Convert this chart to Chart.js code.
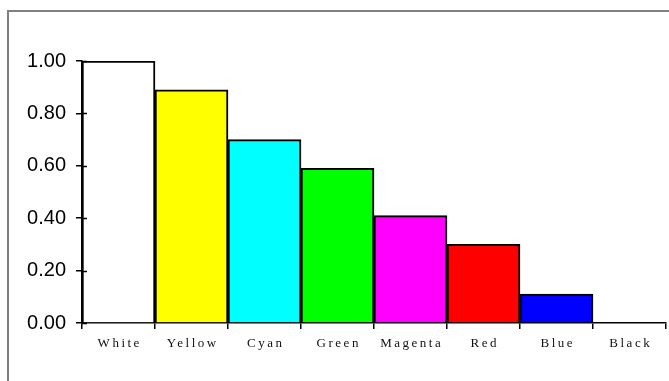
<!DOCTYPE html>
<html>
<head>
<meta charset="utf-8">
<script src="https://cdn.jsdelivr.net/npm/chart.js@4"></script>
<style>
  html, body { margin: 0; padding: 0; background: #fff; }
  #wrap { position: relative; width: 669px; height: 381px; overflow: hidden; }
  #frame { position: absolute; left: 7px; top: 10px; width: 700px; height: 400px;
           border-top: 2px solid #808080; border-left: 2px solid #808080; box-sizing: border-box; }
  canvas { position: absolute; left: 0; top: 0; }
</style>
</head>
<body>
<div id="wrap">
  <div id="frame"></div>
  <canvas id="c" width="669" height="381"></canvas>
</div>
<script>
// Relative luminance of the eight primary colours
const colourNames = ['White', 'Yellow', 'Cyan', 'Green', 'Magenta', 'Red', 'Blue', 'Black'];
const luminance = [1.00, 0.89, 0.70, 0.59, 0.41, 0.30, 0.11, 0.00];
const fillColours = ['#ffffff', '#ffff00', '#00ffff', '#00ff00', '#ff00ff', '#ff0000', '#0000ff', '#000000'];
const yTicks = [0, 0.2, 0.4, 0.6, 0.8, 1.0];

// Inner half of the y tick marks, plus spaced serif category labels
const axisExtras = {
  id: 'axisExtras',
  afterDraw(chart) {
    const ctx = chart.ctx;
    const y = chart.scales.y, x = chart.scales.x;
    ctx.save();
    ctx.strokeStyle = '#000';
    ctx.lineWidth = 1.5;
    ctx.beginPath();
    yTicks.forEach(v => {
      const py = Math.round(y.getPixelForValue(v)) + 0.5;
      ctx.moveTo(x.left, py);
      ctx.lineTo(x.left + 5, py);
    });
    ctx.stroke();

    ctx.fillStyle = '#111';
    ctx.font = '13px "Liberation Serif", "Times New Roman", serif';
    ctx.letterSpacing = '2.5px';
    ctx.textAlign = 'center';
    ctx.textBaseline = 'middle';
    colourNames.forEach((name, i) => {
      const px = x.getPixelForValue(i);
      ctx.fillText(name, px + 1.25, 344);
    });
    ctx.restore();
  }
};

new Chart(document.getElementById('c'), {
  type: 'bar',
  data: {
    labels: colourNames,
    datasets: [{
      data: luminance,
      backgroundColor: fillColours,
      borderColor: '#000',
      borderWidth: 2,
      borderSkipped: 'bottom',
      categoryPercentage: 1.0,
      barPercentage: 1.0
    }]
  },
  options: {
    responsive: false,
    animation: false,
    events: [],
    layout: { padding: { left: 0, right: 3, top: 61, bottom: 0 } },
    plugins: { legend: { display: false }, tooltip: { enabled: false } },
    scales: {
      x: {
        offset: true,
        grid: { display: true, offset: true, drawOnChartArea: false, tickLength: 6, color: '#000', lineWidth: 1.5 },
        border: { display: true, color: '#000', width: 1.5 },
        ticks: { display: false },
        afterFit(scale) { scale.height = 58; }
      },
      y: {
        min: 0, max: 1,
        afterBuildTicks(scale) { scale.ticks = yTicks.map(v => ({ value: v })); },
        grid: { display: true, drawOnChartArea: false, tickLength: 6, color: '#000', lineWidth: 1.5 },
        border: { display: true, color: '#000', width: 1.5 },
        ticks: {
          color: '#000',
          padding: 10,
          font: { family: '"Liberation Sans", Arial, sans-serif', size: 20 },
          callback: v => Number(v).toFixed(2)
        },
        afterFit(scale) { scale.width = 82; }
      }
    }
  },
  plugins: [axisExtras]
});
</script>
</body>
</html>
